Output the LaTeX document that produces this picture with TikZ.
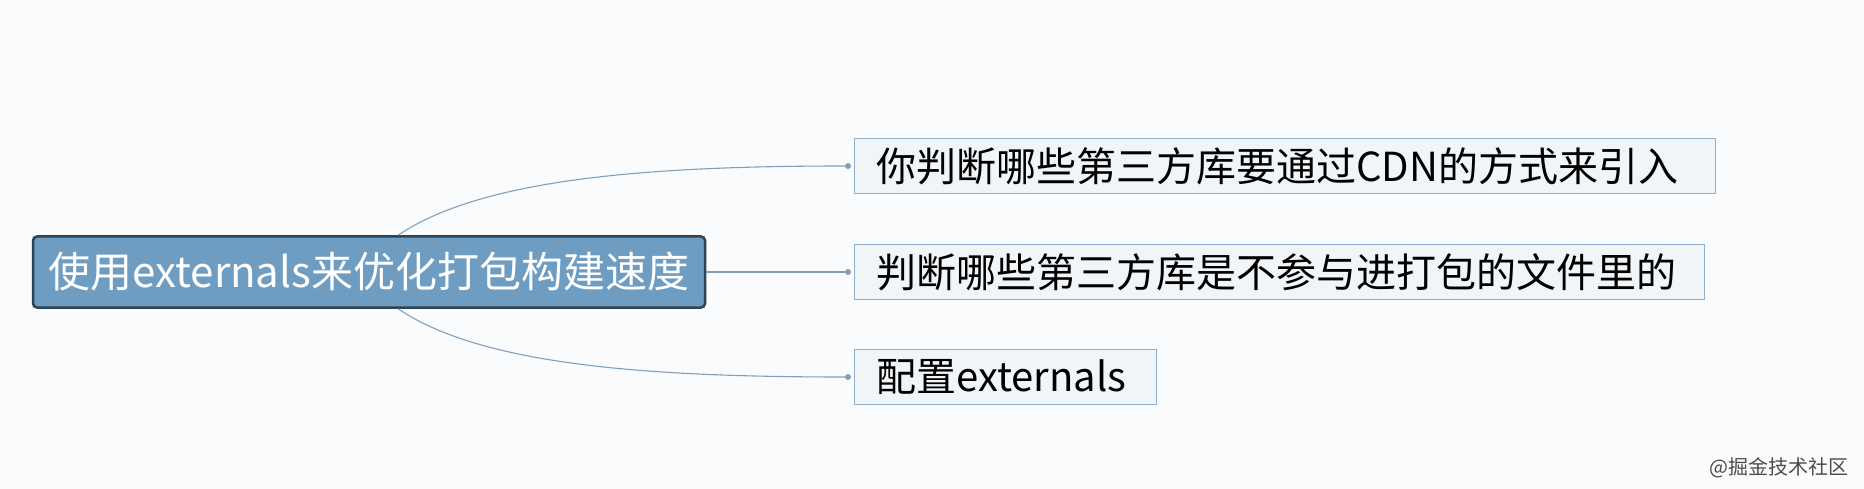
\documentclass[tikz,border=0pt]{standalone}
\usepackage{fontspec}
\setmainfont{Noto Sans CJK SC}
\definecolor{mm-BackColor}{HTML}{FAFBFC}
\definecolor{mm-RootColor}{HTML}{6F9DC1}
\definecolor{mm-RootLine}{HTML}{2E4454}
\definecolor{mm-LeafColor}{HTML}{F1F5F8}
\definecolor{mm-LeafLine}{HTML}{8FAFCB}
\definecolor{mm-LinkColor}{HTML}{7FA0BC}
\tikzstyle{mm-root}=[rectangle,
                     draw=mm-RootLine,
                     line width=2.5pt,
                     rounded corners=4pt,
                     fill=mm-RootColor,
                     text=white,
                     font=\fontsize{42}{46}\selectfont,
                     minimum width=672pt,
                     minimum height=71pt]
\tikzstyle{mm-leaf}=[rectangle,
                     draw=mm-LeafLine,
                     line width=0.8pt,
                     fill=mm-LeafColor,
                     anchor=west,
                     text=black,
                     align=left,
                     font=\fontsize{40}{44}\selectfont,
                     inner xsep=22pt,
                     inner ysep=0pt,
                     minimum height=55pt]
\tikzstyle{mm-link}=[mm-LinkColor, line width=1.1pt]
\tikzstyle{mm-dot}=[circle, fill=mm-LinkColor, inner sep=0pt, minimum size=6pt]

\begin{document}
\begin{tikzpicture}[x=1pt, y=-1pt]
    % Background
    % --------------------------------------------------------------------------
    \fill[mm-BackColor] (0,0) rectangle (1864,489);
    \useasboundingbox (0,0) rectangle (1864,489);

    % Nodes
    % --------------------------------------------------------------------------
    \node at (369, 272) (root) [mm-root] {使用externals来优化打包构建速度};

    \node at (854, 166) (leaf1) [mm-leaf, text width=817pt] {你判断哪些第三方库要通过CDN的方式来引入};
    \node at (854, 272) (leaf2) [mm-leaf, text width=806pt] {判断哪些第三方库是不参与进打包的文件里的};
    \node at (854, 377) (leaf3) [mm-leaf, text width=258pt] {配置externals};

    \node at (848, 166) (dot1) [mm-dot] {};
    \node at (848, 272) (dot2) [mm-dot] {};
    \node at (848, 377) (dot3) [mm-dot] {};

    \node at (1852, 468) (mark) [anchor=east, text=black!70, font=\fontsize{20}{22}\selectfont] {@掘金技术社区};

    % Links
    % --------------------------------------------------------------------------
    \draw[mm-link] ([xshift=29pt]root.north) .. controls (480, 180) and (640, 166) .. (dot1);
    \draw[mm-link] (root.east) -- (dot2);
    \draw[mm-link] ([xshift=29pt]root.south) .. controls (480, 364) and (640, 377) .. (dot3);
\end{tikzpicture}
\end{document}
